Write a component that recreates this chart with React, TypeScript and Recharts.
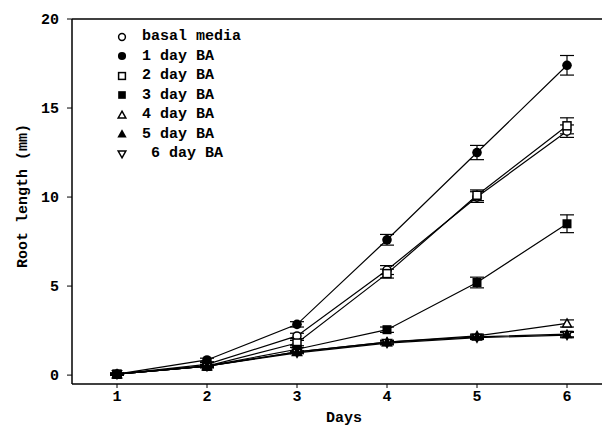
import React from "react";
import {
  LineChart,
  Line,
  XAxis,
  YAxis,
  ErrorBar,
  Legend,
  ReferenceLine,
  Label,
} from "recharts";

const days = [1, 2, 3, 4, 5, 6];

const seriesNames = [
  "basal media",
  "1 day BA",
  "2 day BA",
  "3 day BA",
  "4 day BA",
  "5 day BA",
  "6 day BA",
];

const basalMedia = [0.05, 0.6, 2.2, 5.9, 10.0, 13.7];
const oneDayBA = [0.05, 0.85, 2.85, 7.6, 12.5, 17.4];
const twoDayBA = [0.05, 0.5, 1.8, 5.7, 10.1, 14.0];
const threeDayBA = [0.05, 0.5, 1.45, 2.55, 5.2, 8.5];
const fourDayBA = [0.05, 0.5, 1.3, 1.85, 2.2, 2.9];
const fiveDayBA = [0.05, 0.5, 1.3, 1.85, 2.15, 2.3];
const sixDayBA = [0.05, 0.5, 1.25, 1.8, 2.1, 2.25];

const basalErr = [0.05, 0.1, 0.15, 0.25, 0.3, 0.35];
const oneDayErr = [0.05, 0.1, 0.15, 0.3, 0.4, 0.55];
const twoDayErr = [0.05, 0.1, 0.15, 0.25, 0.3, 0.45];
const threeDayErr = [0.05, 0.05, 0.1, 0.15, 0.3, 0.5];
const fourDayErr = [0.05, 0.05, 0.05, 0.1, 0.1, 0.2];
const fiveDayErr = [0.05, 0.05, 0.05, 0.1, 0.1, 0.15];
const sixDayErr = [0.05, 0.05, 0.05, 0.1, 0.1, 0.15];

const yTicks = [0, 5, 10, 15, 20];

const values = [basalMedia, oneDayBA, twoDayBA, threeDayBA, fourDayBA, fiveDayBA, sixDayBA];
const errors = [basalErr, oneDayErr, twoDayErr, threeDayErr, fourDayErr, fiveDayErr, sixDayErr];
const markers = ["circleOpen", "circle", "squareOpen", "square", "triOpen", "tri", "triDownOpen"];

// drawing order: 1 day BA ends up on top, like the original
const drawOrder = [0, 2, 3, 4, 6, 5, 1];

const data = days.map((d, i) => {
  const row: any = { day: d };
  values.forEach((v, s) => {
    row["s" + s] = v[i];
    row["e" + s] = errors[s][i];
  });
  return row;
});

const font = '"Liberation Mono", "DejaVu Sans Mono", monospace';

function Marker({ kind, cx, cy, k = 1 }: { kind: string; cx: number; cy: number; k?: number }) {
  const sw = 1.5;
  switch (kind) {
    case "circleOpen":
      return <circle cx={cx} cy={cy} r={4 * k} fill="#fff" stroke="#000" strokeWidth={sw} />;
    case "circle":
      return <circle cx={cx} cy={cy} r={4.8 * k} fill="#000" />;
    case "squareOpen":
      return <rect x={cx - 4 * k} y={cy - 4 * k} width={8 * k} height={8 * k} fill="#fff" stroke="#000" strokeWidth={sw} />;
    case "square":
      return <rect x={cx - 4.5 * k} y={cy - 4.5 * k} width={9 * k} height={9 * k} fill="#000" />;
    case "triOpen":
      return (
        <polygon
          points={`${cx},${cy - 4.5 * k} ${cx + 4.5 * k},${cy + 3.5 * k} ${cx - 4.5 * k},${cy + 3.5 * k}`}
          fill="#fff"
          stroke="#000"
          strokeWidth={sw}
        />
      );
    case "tri":
      return <polygon points={`${cx},${cy - 5.5 * k} ${cx + 5.5 * k},${cy + 4 * k} ${cx - 5.5 * k},${cy + 4 * k}`} fill="#000" />;
    default:
      return (
        <polygon
          points={`${cx},${cy + 4.5 * k} ${cx + 4.5 * k},${cy - 3.5 * k} ${cx - 4.5 * k},${cy - 3.5 * k}`}
          fill="#fff"
          stroke="#000"
          strokeWidth={sw}
        />
      );
  }
}

function LegendBox() {
  return (
    <div style={{ fontFamily: font, fontWeight: "bold", fontSize: 15, color: "#000" }}>
      {seriesNames.map((name, i) => (
        <div key={name} style={{ display: "flex", alignItems: "center", height: 19.5 }}>
          <svg width={20} height={14} style={{ marginRight: 10 }}>
            <Marker kind={markers[i]} cx={10} cy={7} k={0.85} />
          </svg>
          <span style={{ whiteSpace: "pre" }}>{i === 6 ? " " + name : name}</span>
        </div>
      ))}
    </div>
  );
}

export default function App() {
  const tickStyle = { fontFamily: font, fontWeight: "bold", fontSize: 15, fill: "#000" };
  return (
    <div
      style={{
        position: "fixed",
        left: 0,
        top: 0,
        width: 602,
        height: 439,
        overflow: "hidden",
        background: "#fff",
      }}
    >
      <LineChart width={612} height={439} data={data} margin={{ top: 19, right: 0, left: 0, bottom: 0 }}>
        <XAxis
          dataKey="day"
          type="number"
          domain={[0.5, 6.5]}
          ticks={days}
          tick={tickStyle}
          tickSize={4}
          tickMargin={2}
          height={55}
          axisLine={{ stroke: "#000", strokeWidth: 1.5 }}
          tickLine={{ stroke: "#000" }}
        >
          <Label
            content={() => (
              <text x={344} y={422} textAnchor="middle" style={tickStyle as any}>
                Days
              </text>
            )}
          />
        </XAxis>
        <YAxis
          type="number"
          domain={[-0.5, 20]}
          ticks={yTicks}
          tick={tickStyle}
          tickSize={5}
          tickMargin={8}
          width={72}
          axisLine={{ stroke: "#000", strokeWidth: 1.5 }}
          tickLine={{ stroke: "#000" }}
        >
          <Label
            content={() => (
              <text
                x={23}
                y={196}
                textAnchor="middle"
                dominantBaseline="central"
                transform="rotate(-90 23 196)"
                style={tickStyle as any}
              >
                Root length (mm)
              </text>
            )}
          />
        </YAxis>
        <ReferenceLine y={20} stroke="#000" strokeWidth={1.5} />
        {drawOrder.map((s) => (
          <Line
            key={seriesNames[s]}
            dataKey={"s" + s}
            name={seriesNames[s]}
            stroke="#000"
            strokeWidth={1.2}
            isAnimationActive={false}
            dot={(p: any) => <Marker key={"d" + s + "-" + p.index} kind={markers[s]} cx={p.cx} cy={p.cy} />}
            activeDot={false}
          >
            <ErrorBar dataKey={"e" + s} width={7} stroke="#000" strokeWidth={1.2} />
          </Line>
        ))}
        <Legend
          layout="vertical"
          align="center"
          verticalAlign="middle"
          wrapperStyle={{ left: 112, top: 27, width: 220 }}
          content={() => <LegendBox />}
        />
      </LineChart>
    </div>
  );
}
